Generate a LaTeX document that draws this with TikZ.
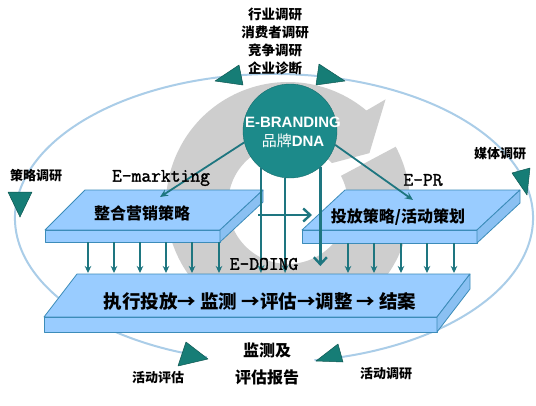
\documentclass[tikz,border=0pt]{standalone}
\usepackage{xcolor}
\usepackage{fontspec}
\usepackage{tikz}
\usetikzlibrary{arrows.meta,calc}
\newfontfamily\cjk{Noto Sans CJK SC}
\newfontfamily\arialfont{Liberation Sans}
\newfontfamily\etfont[FakeBold=1.6]{Latin Modern Mono}
\definecolor{ringblue}{RGB}{170,205,232}
\definecolor{ringgray}{RGB}{206,206,206}
\definecolor{dnateal}{RGB}{28,138,138}
\definecolor{triteal}{RGB}{22,125,118}
\definecolor{arrteal}{RGB}{30,118,128}
\definecolor{slabtop}{RGB}{153,204,255}
\definecolor{slabside}{RGB}{138,192,242}
\definecolor{slabedge}{RGB}{60,140,185}

\begin{document}
\begin{tikzpicture}[x=1pt, y=-1pt,
  slab/.style={fill=slabtop, draw=slabedge, line width=0.8pt, line join=round},
  tri/.style={fill=triteal, draw=triteal!70!black, line width=0.5pt, line join=round},
  dnarr/.style={arrteal, line width=1.6pt, -{Stealth[length=7pt,width=6.5pt]}},
  dnaline/.style={arrteal, line width=2.2pt, -{Stealth[length=8pt,width=7pt]}},
  bigarr/.style={arrteal, line width=2.4pt, -{Straight Barb[length=7pt,width=13pt]}},
  small/.style={font=\cjk\bfseries\fontsize{13}{15}\selectfont},
  boxtxt/.style={font=\cjk\bfseries\fontsize{16}{18}\selectfont},
  etxt/.style={font=\etfont\fontsize{19}{21}\selectfont}]
  \fill[white] (0,0) rectangle (536,405);
  \useasboundingbox (0,0) rectangle (536,405);

  % research cycle
  \draw[ringblue, line width=2pt] (274,218) ++(105:259 and 144)
    arc[start angle=105, end angle=441, x radius=259, y radius=144];
  \begin{scope}[shift={(288,204)}]
    \fill[ringgray] (-28:122) arc[start angle=-28, end angle=310, radius=122]
      -- (313:143) -- (328:96) -- (317:60)
      arc[start angle=317, end angle=-28, radius=60] -- cycle;
  \end{scope}
  \draw[tri] (215,81) -- (239,65) -- (243,85) -- cycle;
  \draw[tri] (316,85) -- (319,64) -- (345,81) -- cycle;
  \draw[tri] (8,192) -- (32,192) -- (20,217) -- cycle;
  \draw[tri] (512,173) -- (530,168) -- (527,195) -- cycle;
  \draw[tri] (178,366) -- (186,342) -- (208,359) -- cycle;
  \draw[tri] (316,361) -- (338,344) -- (343,362) -- cycle;

  % platforms
  \draw[slab] (85,190) -- (263,190) -- (220,230) -- (45,230) -- cycle;
  \draw[slab] (45,230) rectangle (220,242);
  \draw[slab, fill=slabside] (220,230) -- (263,190) -- (263,202) -- (220,242) -- cycle;

  \draw[slab] (345,190) -- (520,190) -- (477,230) -- (302,230) -- cycle;
  \draw[slab] (302,230) rectangle (477,243);
  \draw[slab, fill=slabside] (477,230) -- (520,190) -- (520,203) -- (477,243) -- cycle;

  \draw[slab] (77,274) -- (470,274) -- (437,317) -- (44,317) -- cycle;
  \draw[slab] (44,317) rectangle (437,332);
  \draw[slab, fill=slabside] (437,317) -- (470,274) -- (470,289) -- (437,332) -- cycle;

  \coordinate (mktbot) at (0,242);
  \coordinate (prbot) at (0,243);
  \coordinate (doingtop) at (0,273);
  \coordinate (mkttip) at (160,197);
  \coordinate (prtip) at (413,200);
  \coordinate (mktside) at (258,215);
  \coordinate (prside) at (312,215);

  % brand DNA
  \node[circle, fill=dnateal, draw=dnateal!80!black, minimum size=94pt, inner sep=0pt] (dna) at (290,131) {};
  \node[text=white, align=center, inner sep=0pt, font=\arialfont\bfseries\fontsize{15}{19}\selectfont] (dnatxt) at (293,132)
    {E-BRANDING\\{\cjk\mdseries 品牌}DNA};

  % arrows
  \foreach \x in {88,114,140,166,192,219}
    \draw[dnarr] ($(mktbot)+(\x,0)$) -- ($(doingtop)+(\x,0)$);
  \foreach \x in {348,374,401,427,454}
    \draw[dnarr] ($(prbot)+(\x,0)$) -- ($(doingtop)+(\x,0)$);
  \draw[dnaline] (dna.-128) -- (dna.-128 |- doingtop);
  \draw[dnaline] (dna.-96) -- (dna.-96 |- doingtop);
  \draw[bigarr] (dna.-50) -- ($(dna.-50 |- doingtop)+(0,-7)$);
  \draw[bigarr] (mktside) -- (prside);
  \draw[dnaline, line width=1.8pt] (dna.-166) -- (mkttip);
  \draw[dnaline, line width=1.8pt] (dna.-17) -- (prtip);

  % labels
  \node[small, align=center, font=\cjk\bfseries\fontsize{13.5}{18}\selectfont] (research) at (275,41)
    {行业调研\\消费者调研\\竞争调研\\企业诊断};
  \node[small] (strat) at (36,176) {策略调研};
  \node[small] (media) at (500,154) {媒体调研};
  \node[small] (evalact) at (158,378) {活动评估};
  \node[small] (surveyact) at (386,374) {活动调研};
  \node[boxtxt] (report1) at (267,350) {监测及};
  \node[boxtxt] (report2) at (267,377) {评估报告};

  \node[etxt] (emkt) at (161,178) {E-markting};
  \node[etxt] (epr) at (423,180) {E-PR};
  \node[etxt] (edoing) at (264,264) {E-DOING};

  \node[boxtxt] (mkt) at (142,213) {整合营销策略};
  \node[boxtxt] (pr) at (398,217) {投放策略/活动策划};
  \node[font=\cjk\bfseries\fontsize{18.5}{20}\selectfont] (flow) at (260,301)
    {执行投放→ 监测 →评估→调整 → 结案};
\end{tikzpicture}
\end{document}
